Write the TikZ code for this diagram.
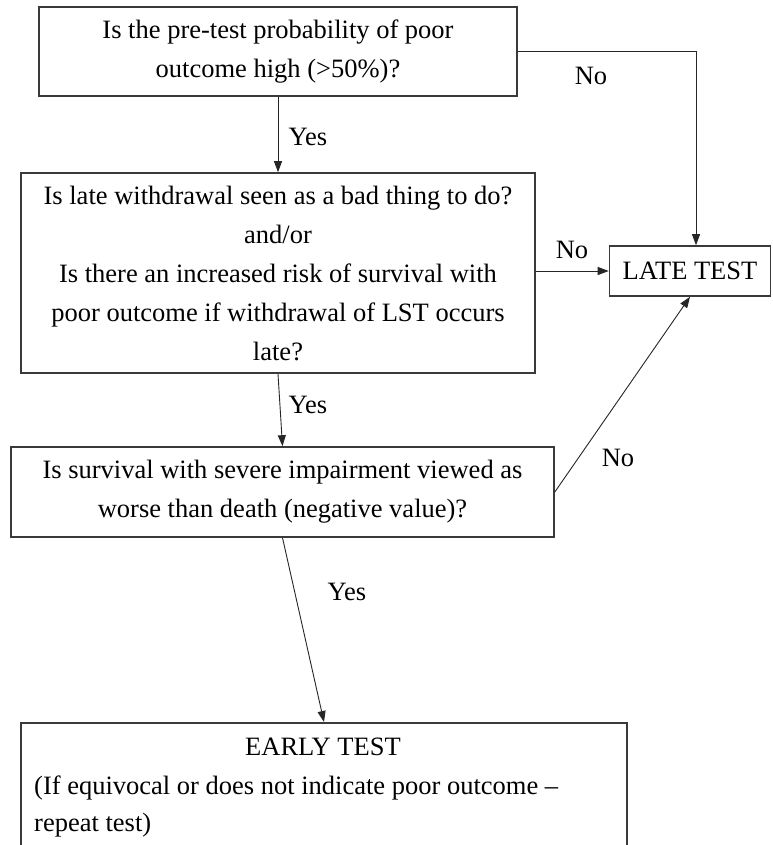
\documentclass[tikz,border=0pt]{standalone}
\usepackage{fontspec}
\setmainfont{Liberation Serif}
\usetikzlibrary{arrows.meta}
\definecolor{boxgray}{HTML}{3A3A3A}
\newcommand\qfont{\fontsize{26.5}{39}\selectfont}
\begin{document}
\begin{tikzpicture}[x=1pt,y=-1pt,
  qbox/.style={draw=boxgray, line width=1.6pt, rectangle, inner sep=0pt, align=center, font=\qfont},
  arr/.style={draw=black!85, line width=0.9pt, -{Triangle[length=11pt,width=8pt]}},
  lbl/.style={font=\qfont, inner sep=0pt}]
  % page
  \fill[white] (0,0) rectangle (772,845);
  \useasboundingbox (0,0) rectangle (772,845);

  % decision boxes
  \node[qbox, minimum width=478pt, minimum height=89pt] (q1) at (278,51.5)
    {Is the pre-test probability of poor\\outcome high (>50\%)?};
  \node[qbox, minimum width=514pt, minimum height=200pt] (q2) at (278,273)
    {Is late withdrawal seen as a bad thing to do?\\and/or\\Is there an increased risk of survival with\\poor outcome if withdrawal of LST occurs\\late?};
  \node[qbox, minimum width=161pt, minimum height=50pt] (late) at (690,271) {LATE TEST};
  \node[qbox, minimum width=543pt, minimum height=90pt] (q3) at (282.5,492)
    {Is survival with severe impairment viewed as\\worse than death (negative value)?};

  % outcome box, running off the bottom of the page
  \node[qbox, minimum width=606pt, minimum height=130pt, anchor=north] (early) at (324,722) {};
  \node[lbl] (earlyhead) at (323,747) {EARLY TEST};
  \node[lbl, anchor=west] (earlyline1) at (34,788) {(If equivocal or does not indicate poor outcome –};
  \node[lbl, anchor=west] (earlyline2) at (34,825) {repeat test)};

  % connectors
  \draw[arr] (q1) -- (q2);
  \draw[arr] (q1.east) -| ([xshift=6pt]late.north);
  \draw[arr] (q2.east |- late.west) -- (late.west);
  \draw[arr] (q2.south) -- (q3.north);
  \draw[arr] (q3.east) -- (late.south);
  \draw[arr] (q3.south) -- (early.north);

  % branch labels
  \node[lbl] (yes1) at (308,137) {Yes};
  \node[lbl] (no1) at (591,76) {No};
  \node[lbl] (no2) at (572,250) {No};
  \node[lbl] (yes2) at (308,405) {Yes};
  \node[lbl] (no3) at (618,458) {No};
  \node[lbl] (yes3) at (347,592) {Yes};
\end{tikzpicture}
\end{document}
